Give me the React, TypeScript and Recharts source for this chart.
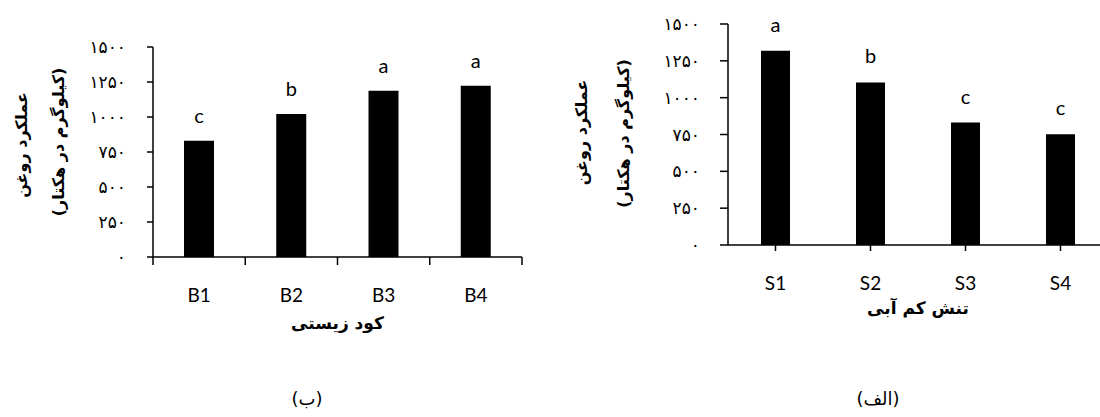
import React from 'react';
import { BarChart, Bar, XAxis, YAxis, LabelList, Label } from 'recharts';

// biofertilizer chart (ب)
const bioCategories = ['B1', 'B2', 'B3', 'B4'];
const bioYield = [830, 1021, 1188, 1224];
const bioLetters = ['c', 'b', 'a', 'a'];

// water stress chart (الف)
const stressCategories = ['S1', 'S2', 'S3', 'S4'];
const stressYield = [1318, 1103, 831, 752];
const stressLetters = ['a', 'b', 'c', 'c'];

const yTicks = [0, 250, 500, 750, 1000, 1250, 1500];
const yTickLabels = ['۰', '۲۵۰', '۵۰۰', '۷۵۰', '۱۰۰۰', '۱۲۵۰', '۱۵۰۰'];

const yTitle = 'عملکرد روغن';
const yUnit = '(کیلوگرم در هکتار)';
const bioTitle = 'کود زیستی';
const stressTitle = 'تنش کم آبی';
const bioCaption = '(ب)';
const stressCaption = '(الف)';

const bioData = bioCategories.map((name, i) => ({ name, value: bioYield[i], letter: bioLetters[i] }));
const stressData = stressCategories.map((name, i) => ({ name, value: stressYield[i], letter: stressLetters[i] }));

const latin = 'Lato, "Open Sans", sans-serif';
const persian = '"DejaVu Sans", sans-serif';
const fmtY = (v: number) => yTickLabels[yTicks.indexOf(v)];

const yLabel = (dx1: number, dx2: number, dy1: number, dy2: number) => (props: any) => {
  const vb = props.viewBox;
  const ax = vb.x + vb.width;
  const cy = vb.y + vb.height / 2;
  const x1 = ax + dx1, y1 = cy + dy1;
  const x2 = ax + dx2, y2 = cy + dy2;
  return (
    <g fontFamily={persian} fontWeight="bold" fontSize={16} fill="#000">
      <text x={x1} y={y1} textAnchor="middle" dominantBaseline="central" direction="rtl" transform={`rotate(-90, ${x1}, ${y1})`}>
        {yTitle}
      </text>
      <text x={x2} y={y2} textAnchor="middle" dominantBaseline="central" direction="rtl" transform={`rotate(-90, ${x2}, ${y2})`}>
        {yUnit}
      </text>
    </g>
  );
};

const xLabel = (title: string, dy: number) => (props: any) => {
  const vb = props.viewBox;
  return (
    <text x={vb.x + vb.width / 2} y={vb.y + dy} textAnchor="middle" dominantBaseline="central" direction="rtl"
      fontFamily={persian} fontWeight="bold" fontSize={17} fill="#000">
      {title}
    </text>
  );
};

const axisStroke = { stroke: '#000', strokeWidth: 1.5 };

// category label plus tick marks on the band edges (left chart style)
const LABEL_GAP = 32;
const EDGE_TICK = 8;
const EdgeTick = (props: any) => {
  const { x, y, width, visibleTicksCount, index, payload } = props;
  const half = width / visibleTicksCount / 2;
  const axisY = y - LABEL_GAP;
  const last = index === visibleTicksCount - 1;
  return (
    <g>
      <line x1={x - half} x2={x - half} y1={axisY} y2={axisY + EDGE_TICK} stroke="#000" strokeWidth={1.5} />
      {last && <line x1={x + half} x2={x + half} y1={axisY} y2={axisY + EDGE_TICK} stroke="#000" strokeWidth={1.5} />}
      <text x={x} y={y} dy="0.71em" textAnchor="middle" fill="#000" fontSize={19} fontFamily={latin}>
        {payload.value}
      </text>
    </g>
  );
};

export default function App() {
  return (
    <div style={{ position: 'fixed', left: 0, top: 0, width: 1100, height: 417, overflow: 'hidden', background: '#fff' }}>
      <div style={{ position: 'absolute', left: 0, top: 0 }}>
        <BarChart width={540} height={345} data={bioData} margin={{ top: 47, right: 18, left: 93, bottom: 0 }}>
          <XAxis dataKey="name" height={88} axisLine={axisStroke} tickLine={false}
            tickSize={0} tickMargin={LABEL_GAP} interval={0} tick={<EdgeTick />}>
            <Label content={xLabel(bioTitle, 66)} />
          </XAxis>
          <YAxis width={60} domain={[0, 1500]} ticks={yTicks} tickFormatter={fmtY} interval={0}
            tickSize={6} tickMargin={21} axisLine={axisStroke} tickLine={axisStroke}
            tick={{ fill: '#000', fontSize: 17, fontFamily: persian }}>
            <Label content={yLabel(-132, -95, -7, -10)} />
          </YAxis>
          <Bar dataKey="value" fill="#000" barSize={30} isAnimationActive={false}>
            <LabelList dataKey="letter" position="top" offset={18} fill="#000" fontSize={20} fontFamily={latin} />
          </Bar>
        </BarChart>
      </div>
      <div style={{ position: 'absolute', left: 550, top: 0 }}>
        <BarChart width={560} height={325} data={stressData} margin={{ top: 24, right: 2, left: 118, bottom: 0 }}>
          <XAxis dataKey="name" height={80} interval={0} tickSize={6} tickMargin={26}
            axisLine={axisStroke} tickLine={axisStroke}
            tick={{ fill: '#000', fontSize: 19, fontFamily: latin }}>
            <Label content={xLabel(stressTitle, 63)} />
          </XAxis>
          <YAxis width={60} domain={[0, 1500]} ticks={yTicks} tickFormatter={fmtY} interval={0}
            tickSize={8} tickMargin={20} axisLine={axisStroke} tickLine={axisStroke}
            tick={{ fill: '#000', fontSize: 17, fontFamily: persian }}>
            <Label content={yLabel(-147, -105, -2, -1)} />
          </YAxis>
          <Bar dataKey="value" fill="#000" barSize={29} isAnimationActive={false}>
            <LabelList dataKey="letter" position="top" offset={19} fill="#000" fontSize={20} fontFamily={latin} />
          </Bar>
        </BarChart>
      </div>
      <div style={{ position: 'absolute', left: 257, width: 100, top: 388, textAlign: 'center', fontFamily: persian, fontSize: 18, direction: 'rtl' }}>
        {bioCaption}
      </div>
      <div style={{ position: 'absolute', left: 828, width: 100, top: 388, textAlign: 'center', fontFamily: persian, fontSize: 18, direction: 'rtl' }}>
        {stressCaption}
      </div>
    </div>
  );
}
